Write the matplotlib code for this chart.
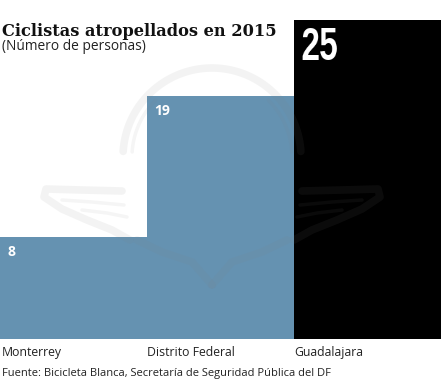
import numpy as np
import matplotlib
matplotlib.use('Agg')
import matplotlib.pyplot as plt

# Values
cities = ['Monterrey', 'Distrito Federal', 'Guadalajara']
cases = [8, 19, 25]
colors = ['#6592b1', '#6592b1', '#000000']

W, H = 441, 388
fig = plt.figure(figsize=(W / 100, H / 100), dpi=100)
bottom = 338.5
top = 20
ax = fig.add_axes([0, 1 - bottom / H, 1, (bottom - top) / H])
ax.bar(range(3), cases, width=1, color=colors, align='edge')
ax.set_xlim(0, 3)
ax.set_ylim(0, 25)
ax.axis('off')

# Faint seal over the chart, in pixel coordinates
seal = fig.add_axes([0, 0, 1, 1], zorder=3)
seal.set_xlim(0, W)
seal.set_ylim(H, 0)
seal.axis('off')
seal.patch.set_alpha(0)
mark = dict(color='#808080', alpha=0.09, lw=5.5, solid_capstyle='round')
fine = dict(color='#808080', alpha=0.08, lw=2.5, solid_capstyle='round')
t = np.linspace(0.02 * np.pi, 0.98 * np.pi, 80)
seal.plot(212 + 89 * np.cos(t + np.pi), 157 + 89 * np.sin(t + np.pi), **mark)
seal.plot(212 - 80 * np.cos(t[:20]), 157 - 80 * np.sin(t[:20]), **fine)
seal.plot(212 + 80 * np.cos(t[:20]), 157 - 80 * np.sin(t[:20]), **fine)
for side in (-1, 1):
    # wing outline
    seal.plot([212 + side * 90, 212 + side * 130, 212 + side * 166, 212 + side * 168,
               212 + side * 150, 212 + side * 125, 212 + side * 100, 212 + side * 82],
              [191, 190, 189, 197, 209, 220, 230, 240], **mark)
    seal.plot([212 + side * 150, 212 + side * 120, 212 + side * 88],
              [200, 202, 205], **fine)
    seal.plot([212 + side * 130, 212 + side * 105, 212 + side * 85],
              [210, 213, 217], **fine)
    # lower feathers
    seal.plot([212 + side * 75, 212 + side * 50, 212 + side * 20, 212],
              [240, 252, 262, 285], **mark)

def px_text(x, y, s, **kw):
    return fig.text(x / W, 1 - y / H, s, zorder=5, **kw)

# no condensed face installed, so narrow the drawn text
def squeeze(im, dpi):
    h, w = im.shape[:2]
    new_w = int(w * 0.74)
    xs = np.linspace(0, w - 1, new_w)
    out = np.zeros((h, new_w, im.shape[2]))
    for r in range(h):
        for c in range(im.shape[2]):
            out[r, :, c] = np.interp(xs, np.arange(w), im[r, :, c])
    return out, 0, 0

px_text(2, 35.5, 'Ciclistas atropellados en 2015', fontsize=11.7,
        fontweight='bold', family='DejaVu Serif', color='#111111')
px_text(2, 50.5, '(Número de personas)', fontsize=9.9,
        family='Open Sans', color='#222222')

# Value labels inside the bars
px_text(7, 256, str(cases[0]), fontsize=10, fontweight='bold',
        family='Open Sans', color='white')
px_text(154, 115, str(cases[1]), fontsize=10, fontweight='bold',
        family='Open Sans', color='white')
big = px_text(300, 60, str(cases[2]), fontsize=33, fontweight='bold',
              family='Liberation Sans', color='white')
big.set_agg_filter(squeeze)

label_x = [2, 147, 294]
for x, city in zip(label_x, cities):
    px_text(x, 356, city, fontsize=8.8, family='Open Sans', color='#222222')
px_text(2, 376, 'Fuente: Bicicleta Blanca, Secretaría de Seguridad Pública del DF',
        fontsize=8.0, family='Open Sans', color='#222222')

fig.savefig('out.png', dpi=100)
